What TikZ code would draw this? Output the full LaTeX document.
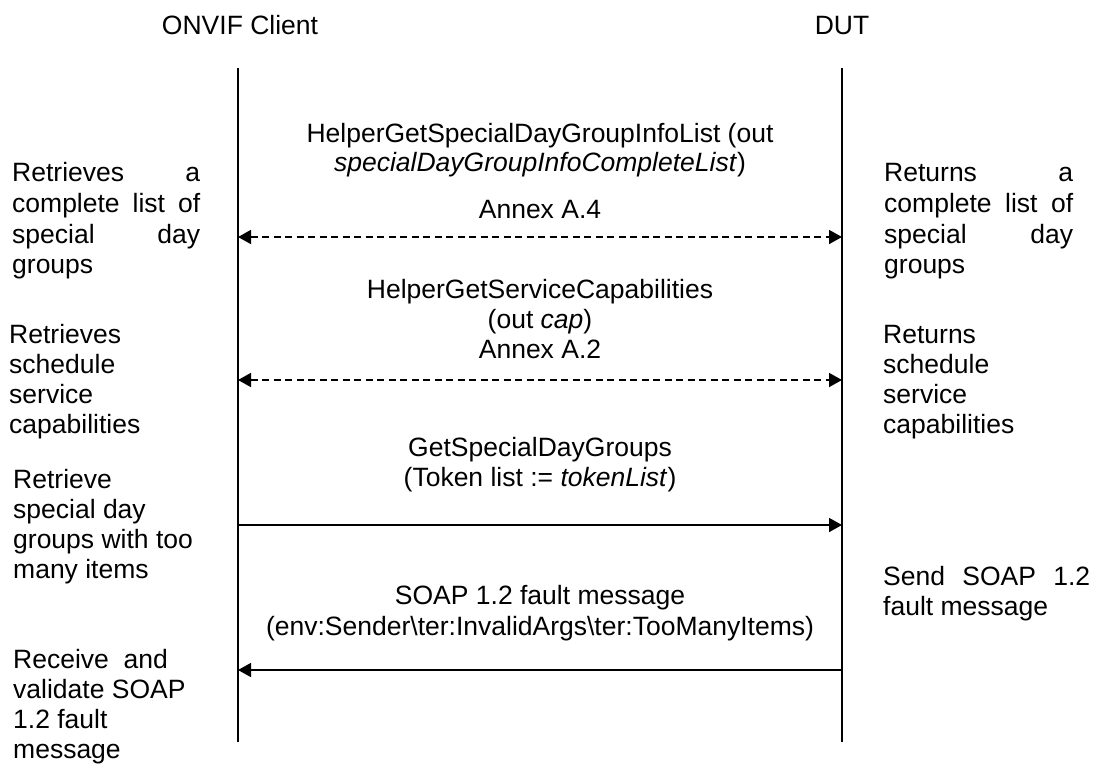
\documentclass[tikz,border=0pt]{standalone}
\usepackage{fontspec}
\setmainfont{Liberation Sans}
\usetikzlibrary{arrows.meta}
\begin{document}
\begin{tikzpicture}[x=1pt,y=-1pt,
  font=\fontsize{26.5}{30.5}\selectfont,
  life/.style={line width=1.6pt},
  tip/.tip={Triangle[length=13pt,width=14pt]},
  msg/.style={line width=1.6pt,-tip},
  rmsg/.style={line width=1.6pt,tip-},
  hlp/.style={line width=1.6pt,tip-tip,dash pattern=on 7pt off 4.5pt},
  txt/.style={anchor=base west,inner sep=0pt},
  lbl/.style={anchor=base,inner sep=0pt}]
\useasboundingbox (0,0) rectangle (1097,764);

% headers
\node[lbl] (hc) at (240,34) {ONVIF Client};
\node[lbl] (hd) at (842,34) {DUT};

% lifelines
\coordinate (ct) at (238,68);
\coordinate (cb) at (238,742);
\coordinate (dt) at (842,68);
\coordinate (db) at (842,742);
\draw[life] (ct) -- (cb);
\draw[life] (dt) -- (db);

% message end points
\coordinate (c1) at (238,237); \coordinate (d1) at (842,237);
\coordinate (c2) at (238,380); \coordinate (d2) at (842,380);
\coordinate (c3) at (238,525); \coordinate (d3) at (842,525);
\coordinate (c4) at (238,670); \coordinate (d4) at (842,670);

\draw[hlp] (c1) -- (d1);
\draw[hlp] (c2) -- (d2);
\draw[msg] (c3) -- (d3);
\draw[rmsg] (c4) -- (d4);

% message labels
\node[lbl] (m1a) at (540,142) {HelperGetSpecialDayGroupInfoList (out};
\node[lbl] (m1b) at (540,171) {\textit{specialDayGroupInfoCompleteList})};
\node[lbl] (m1c) at (540,218) {Annex A.4};

\node[lbl] (m2a) at (540,298) {HelperGetServiceCapabilities};
\node[lbl] (m2b) at (540,328) {(out \textit{cap})};
\node[lbl] (m2c) at (540,358) {Annex A.2};

\node[lbl] (m3a) at (540,456) {GetSpecialDayGroups};
\node[lbl] (m3b) at (540,486) {(Token list := \textit{tokenList})};

\node[lbl] (m4a) at (540,604) {SOAP 1.2 fault message};
\node[lbl] (m4b) at (540,635) {(env:Sender\textbackslash ter:InvalidArgs\textbackslash ter:TooManyItems)};

% left side descriptions
\node[txt] (la1) at (12,181) {\hbox to 188pt{Retrieves\hfill a}};
\node[txt] (la2) at (12,212) {\hbox to 188pt{complete\hfill list\hfill of}};
\node[txt] (la3) at (12,243) {\hbox to 188pt{special\hfill day}};
\node[txt] (la4) at (12,273) {groups};

\node[txt] (lb1) at (9,343) {Retrieves};
\node[txt] (lb2) at (9,373) {schedule};
\node[txt] (lb3) at (9,403) {service};
\node[txt] (lb4) at (9,433) {capabilities};

\node[txt] (lc1) at (13,488) {Retrieve};
\node[txt] (lc2) at (13,518) {special day};
\node[txt] (lc3) at (13,548) {groups with too};
\node[txt] (lc4) at (13,578) {many items};

\node[txt] (ld1) at (13,668) {Receive\ \ and};
\node[txt] (ld2) at (13,698) {validate SOAP};
\node[txt] (ld3) at (13,728) {1.2 fault};
\node[txt] (ld4) at (13,758) {message};

% right side descriptions
\node[txt] (ra1) at (884,181) {\hbox to 189pt{Returns\hfill a}};
\node[txt] (ra2) at (884,212) {\hbox to 189pt{complete\hfill list\hfill of}};
\node[txt] (ra3) at (884,243) {\hbox to 189pt{special\hfill day}};
\node[txt] (ra4) at (884,273) {groups};

\node[txt] (rb1) at (883,343) {Returns};
\node[txt] (rb2) at (883,373) {schedule};
\node[txt] (rb3) at (883,403) {service};
\node[txt] (rb4) at (883,433) {capabilities};

\node[txt] (rc1) at (883,585) {\hbox to 207pt{Send\hfill SOAP\hfill 1.2}};
\node[txt] (rc2) at (883,615) {fault message};
\end{tikzpicture}
\end{document}
